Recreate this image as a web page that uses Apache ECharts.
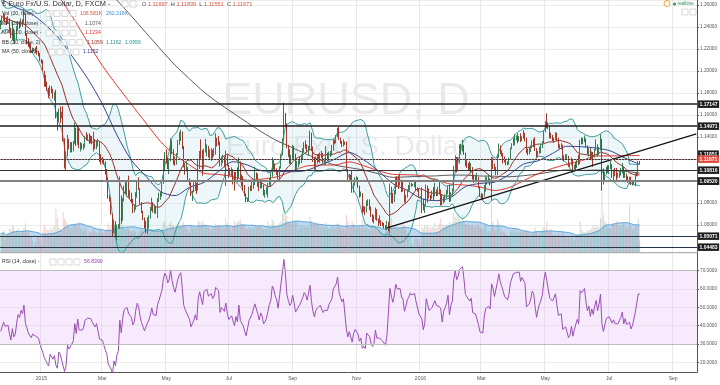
<!DOCTYPE html>
<html><head><meta charset="utf-8">
<script src="https://cdn.jsdelivr.net/npm/echarts/dist/echarts.min.js"></script>
<style>html,body{margin:0;padding:0;background:#fff}#c{width:720px;height:385px}</style>
</head><body><div id="c"></div>
<script>
// ---------------- DATA (read/estimated from the reference picture) ----------------
const firstDate = '2014-11-24';
const axisEndDate = '2016-09-23';
const firstOpen = 1.2390;
// closes before the first visible bar (needed to start the 20-day band and RSI)
const preCloses = [1.2732,1.2628,1.2612,1.2525,1.2483,1.2547,1.2489,1.2376,1.2447,1.2411,1.2478,1.2437,1.2474,1.2527,1.2477,1.2534,1.2544,1.2546,1.2390];
const closes = [
1.2441,1.2474,1.2505,1.2463,1.2451, 1.2467,1.2382,1.2312,1.2380,1.2288, 1.2304,1.2378,1.2439,1.2413,1.2465, 1.2440,1.2502,1.2338,1.2292,1.2229,
1.2226,1.2175,1.2196,1.2193,1.2176, 1.2158,1.2156,1.2098,1.2087,1.2002, 1.1933,1.1890,1.1836,1.1792,1.1843, 1.1832,1.1772,1.1787,1.1627,1.1564,
1.1644,1.1607,1.1611,1.1366,1.1205, 1.1243,1.1381,1.1306,1.1321,1.1291, 1.1345,1.1480,1.1343,1.1479,1.1316, 1.1322,1.1310,1.1328,1.1397,1.1389,
1.1413,1.1411,1.1407,1.1374,1.1383, 1.1327,1.1348,1.1348,1.1198,1.1196, 1.1183,1.1177,1.1073,1.1023,1.0843, 1.0849,1.0700,1.0548,1.0625,1.0496,
1.0568,1.0594,1.0860,1.0656,1.0823, 1.0942,1.0925,1.0967,1.0887,1.0888, 1.0832,1.0731,1.0763,1.0887,1.0970, 1.0927,1.0804,1.0720,1.0661,1.0600,
1.0569,1.0658,1.0687,1.0733,1.0806, 1.0735,1.0753,1.0722,1.0828,1.0871, 1.0887,1.0979,1.1130,1.1220,1.1198, 1.1146,1.1186,1.1347,1.1262,1.1201,
1.1160,1.1245,1.1343,1.1410,1.1445, 1.1318,1.1144,1.1093,1.1107,1.1014, 1.0976,1.0876,1.0905,1.0937,1.0985, 1.0926,1.1154,1.1242,1.1239,1.1111,
1.1289,1.1290,1.1318,1.1253,1.1265, 1.1282,1.1241,1.1265,1.1363,1.1351, 1.1340,1.1153,1.1199,1.1203,1.1164, 1.1236,1.1144,1.1080,1.1087,1.1109,
1.1061,1.1016,1.1080,1.1031,1.1163, 1.1009,1.1002,1.0951,1.0887,1.0828, 1.0828,1.0936,1.0932,1.0982,1.0984, 1.1063,1.1061,1.0987,1.0933,1.0983,
1.0958,1.0889,1.0903,1.0924,1.0969, 1.1015,1.1043,1.1165,1.1145,1.1104, 1.1081,1.1025,1.1118,1.1237,1.1384, 1.1617,1.1518,1.1315,1.1246,1.1184,
1.1212,1.1315,1.1233,1.1121,1.1151, 1.1170,1.1206,1.1215,1.1280,1.1337, 1.1316,1.1273,1.1290,1.1433,1.1293, 1.1192,1.1128,1.1193,1.1214,1.1199,
1.1240,1.1249,1.1177,1.1194,1.1209, 1.1195,1.1238,1.1241,1.1277,1.1360, 1.1357,1.1404,1.1472,1.1384,1.1351, 1.1323,1.1345,1.1344,1.1108,1.1015,
1.1050,1.1045,1.0922,1.0977,1.1005, 1.1016,1.0950,1.0863,1.0882,1.0740, 1.0752,1.0719,1.0813,1.0817,1.0770, 1.0686,1.0644,1.0660,1.0738,1.0648,
1.0636,1.0641,1.0623,1.0610,1.0592, 1.0566,1.0615,1.0612,1.0941,1.0879, 1.0832,1.0895,1.1024,1.0990,1.0989, 1.0991,1.0934,1.0919,1.0826,1.0866,
1.0920,1.0939,1.0978,1.0965,1.0966, 1.0975,1.0930,1.0931,1.0857,1.0857, 1.0826,1.0748,1.0780,1.0935,1.0928, 1.0857,1.0853,1.0875,1.0866,1.0917,
1.0890,1.0895,1.0885,1.0873,1.0797, 1.0852,1.0871,1.0895,1.0942,1.0830, 1.0888,1.0918,1.1105,1.1210,1.1155, 1.1196,1.1289,1.1290,1.1325,1.1255,
1.1153,1.1145,1.1121,1.1106,1.1128, 1.1026,1.1019,1.1015,1.1024,1.0935, 1.0872,1.0870,1.0862,1.0952,1.1000, 1.1011,1.1012,1.0998,1.1177,1.1154,
1.1105,1.1109,1.1224,1.1315,1.1270, 1.1242,1.1214,1.1181,1.1175,1.1163, 1.1201,1.1296,1.1335,1.1380,1.1390, 1.1393,1.1385,1.1405,1.1368,1.1397,
1.1407,1.1381,1.1270,1.1264,1.1285, 1.1314,1.1360,1.1348,1.1286,1.1225, 1.1265,1.1297,1.1318,1.1352,1.1454, 1.1534,1.1494,1.1487,1.1403,1.1402,
1.1386,1.1383,1.1431,1.1372,1.1311, 1.1314,1.1318,1.1215,1.1202,1.1221, 1.1224,1.1141,1.1151,1.1188,1.1115, 1.1145,1.1131,1.1185,1.1157,1.1370,
1.1356,1.1360,1.1390,1.1314,1.1254, 1.1285,1.1212,1.1261,1.1221,1.1277, 1.1318,1.1247,1.1294,1.1373,1.1114, 1.1019,1.1069,1.1126,1.1106,1.1133,
1.1142,1.1070,1.1094,1.1058,1.1051, 1.1054,1.1059,1.1091,1.1121,1.1034, 1.1065,1.1019,1.1009,1.1027,1.0977, 1.0993,1.0993,1.1058,1.1055,1.11697,
1.11671];
const highs = [
1.2465,1.2500,1.2530,1.2515,1.2490, 1.2500,1.2480,1.2395,1.2456,1.2390, 1.2340,1.2410,1.2450,1.2450,1.2480, 1.2470,1.2570,1.2520,1.2345,1.2300,
1.2260,1.2250,1.2215,1.2210,1.2215, 1.2230,1.2185,1.2165,1.2110,1.2100, 1.1975,1.1965,1.1905,1.1850,1.1870, 1.1865,1.1840,1.1810,1.1830,1.1630,
1.1660,1.1680,1.1630,1.1680,1.1390, 1.1270,1.1420,1.1385,1.1355,1.1355, 1.1365,1.1534,1.1485,1.1495,1.1485, 1.1355,1.1345,1.1340,1.1410,1.1445,
1.1425,1.1435,1.1415,1.1410,1.1450, 1.1380,1.1365,1.1385,1.1355,1.1245, 1.1220,1.1205,1.1180,1.1110,1.1035, 1.0880,1.0855,1.0705,1.0650,1.0635,
1.0605,1.0610,1.1043,1.0870,1.0845, 1.0960,1.1000,1.0990,1.1050,1.0920, 1.0895,1.0840,1.0790,1.0900,1.1010, 1.1035,1.0935,1.0810,1.0730,1.0670,
1.0640,1.0670,1.0690,1.0765,1.0850, 1.0810,1.0790,1.0775,1.0845,1.0895, 1.0905,1.0990,1.1195,1.1265,1.1290, 1.1215,1.1210,1.1390,1.1365,1.1290,
1.1225,1.1255,1.1375,1.1447,1.1467, 1.1450,1.1320,1.1155,1.1180,1.1130, 1.1025,1.0990,1.0915,1.0990,1.0995, 1.0985,1.1195,1.1275,1.1380,1.1285,
1.1295,1.1385,1.1335,1.1320,1.1290, 1.1300,1.1285,1.1300,1.1435,1.1395, 1.1410,1.1360,1.1225,1.1240,1.1225, 1.1278,1.1245,1.1150,1.1120,1.1125,
1.1075,1.1085,1.1085,1.1125,1.1215, 1.1180,1.1060,1.1045,1.0965,1.0890, 1.0850,1.0950,1.0960,1.1005,1.0995, 1.1130,1.1080,1.1070,1.0995,1.1010,
1.0995,1.0965,1.0920,1.0945,1.0985, 1.1030,1.1085,1.1215,1.1190,1.1160, 1.1115,1.1100,1.1135,1.1245,1.1390, 1.1714,1.1620,1.1525,1.1330,1.1290,
1.1240,1.1330,1.1320,1.1250,1.1185, 1.1190,1.1225,1.1245,1.1300,1.1355, 1.1370,1.1335,1.1320,1.1460,1.1440, 1.1315,1.1215,1.1225,1.1245,1.1250,
1.1260,1.1275,1.1255,1.1210,1.1320, 1.1260,1.1270,1.1275,1.1330,1.1385, 1.1375,1.1420,1.1485,1.1495,1.1395, 1.1365,1.1380,1.1360,1.1360,1.1110,
1.1065,1.1060,1.1095,1.0985,1.1035, 1.1045,1.1035,1.0960,1.0905,1.0890, 1.0775,1.0770,1.0825,1.0835,1.0835, 1.0760,1.0700,1.0690,1.0760,1.0745,
1.0660,1.0690,1.0645,1.0630,1.0620, 1.0600,1.0640,1.0630,1.0980,1.0950, 1.0895,1.0920,1.1040,1.1045,1.1050, 1.1060,1.1015,1.1010,1.0925,1.0875,
1.0925,1.0965,1.0990,1.0985,1.0975, 1.0990,1.0995,1.0945,1.0935,1.0865, 1.0945,1.0840,1.0790,1.0970,1.0960, 1.0935,1.0875,1.0915,1.0945,1.0985,
1.0925,1.0950,1.0990,1.0925,1.0880, 1.0860,1.0880,1.0920,1.0960,1.0965, 1.0900,1.0935,1.1140,1.1235,1.1220, 1.1220,1.1335,1.1340,1.1376,1.1330,
1.1260,1.1190,1.1165,1.1180,1.1165, 1.1125,1.1060,1.1050,1.1075,1.1040, 1.0950,1.0890,1.0885,1.0965,1.1040, 1.1035,1.1060,1.1025,1.1220,1.1215,
1.1160,1.1130,1.1240,1.1342,1.1325, 1.1280,1.1255,1.1225,1.1195,1.1180, 1.1215,1.1305,1.1345,1.1395,1.1430, 1.1415,1.1435,1.1410,1.1435,1.1410,
1.1465,1.1440,1.1395,1.1295,1.1310, 1.1325,1.1370,1.1385,1.1400,1.1300, 1.1275,1.1315,1.1340,1.1365,1.1460, 1.1545,1.1616,1.1535,1.1495,1.1440,
1.1420,1.1395,1.1445,1.1440,1.1395, 1.1335,1.1345,1.1330,1.1235,1.1245, 1.1245,1.1230,1.1170,1.1215,1.1200, 1.1150,1.1175,1.1195,1.1240,1.1375,
1.1395,1.1395,1.1415,1.1390,1.1325, 1.1300,1.1300,1.1270,1.1265,1.1295, 1.1380,1.1335,1.1310,1.1427,1.1385, 1.1115,1.1085,1.1130,1.1145,1.1145,
1.1185,1.1155,1.1105,1.1120,1.1120, 1.1075,1.1090,1.1120,1.1165,1.1130, 1.1090,1.1070,1.1045,1.1040,1.1040, 1.1005,1.1010,1.1070,1.1080,1.1185,
1.11839];
const lows = [
1.2380,1.2420,1.2455,1.2445,1.2420, 1.2430,1.2360,1.2300,1.2280,1.2270, 1.2245,1.2290,1.2370,1.2385,1.2400, 1.2405,1.2425,1.2320,1.2245,1.2220,
1.2205,1.2165,1.2165,1.2180,1.2165, 1.2150,1.2135,1.2090,1.2070,1.2000, 1.1860,1.1855,1.1820,1.1755,1.1775, 1.1800,1.1750,1.1730,1.1570,1.1460,
1.1540,1.1530,1.1570,1.1360,1.1115, 1.1098,1.1225,1.1290,1.1260,1.1262, 1.1270,1.1340,1.1320,1.1330,1.1300, 1.1270,1.1290,1.1285,1.1305,1.1370,
1.1365,1.1340,1.1345,1.1335,1.1270, 1.1290,1.1290,1.1315,1.1175,1.1150, 1.1160,1.1150,1.1060,1.0990,1.0840, 1.0815,1.0695,1.0495,1.0525,1.0490,
1.0462,1.0570,1.0570,1.0612,1.0640, 1.0815,1.0890,1.0860,1.0855,1.0840, 1.0800,1.0710,1.0715,1.0740,1.0850, 1.0920,1.0790,1.0710,1.0645,1.0570,
1.0530,1.0520,1.0570,1.0660,1.0730, 1.0715,1.0705,1.0705,1.0665,1.0810, 1.0830,1.0860,1.0975,1.1100,1.1160, 1.1110,1.1065,1.1180,1.1245,1.1150,
1.1140,1.1150,1.1235,1.1330,1.1365, 1.1290,1.1125,1.1060,1.1090,1.1005, 1.0960,1.0865,1.0820,1.0900,1.0910, 1.0885,1.0915,1.1110,1.1205,1.1050,
1.1110,1.1260,1.1225,1.1215,1.1200, 1.1185,1.1205,1.1225,1.1240,1.1315, 1.1325,1.1135,1.1135,1.1165,1.1125, 1.0955,1.1135,1.1030,1.1050,1.1050,
1.0970,1.0915,1.1000,1.0990,1.1030, 1.0990,1.0955,1.0915,1.0865,1.0810, 1.0810,1.0815,1.0910,1.0910,1.0930, 1.0965,1.1020,1.0950,1.0910,1.0935,
1.0935,1.0870,1.0850,1.0880,1.0850, 1.0960,1.0955,1.1040,1.1105,1.1090, 1.1055,1.1015,1.1015,1.1115,1.1235, 1.1370,1.1500,1.1300,1.1220,1.1155,
1.1155,1.1205,1.1195,1.1085,1.1085, 1.1125,1.1150,1.1165,1.1200,1.1265, 1.1295,1.1260,1.1230,1.1280,1.1275, 1.1175,1.1105,1.1100,1.1160,1.1175,
1.1165,1.1210,1.1160,1.1145,1.1150, 1.1180,1.1185,1.1220,1.1230,1.1275, 1.1335,1.1345,1.1400,1.1375,1.1340, 1.1310,1.1315,1.1330,1.1095,1.0995,
1.1015,1.0995,1.0895,1.0895,1.0960, 1.0990,1.0940,1.0850,1.0860,1.0705, 1.0720,1.0690,1.0715,1.0775,1.0735, 1.0675,1.0630,1.0615,1.0650,1.0640,
1.0590,1.0615,1.0590,1.0590,1.0570, 1.0560,1.0555,1.0545,1.0524,1.0800, 1.0795,1.0810,1.0880,1.0945,1.0930, 1.0960,1.0900,1.0905,1.0805,1.0805,
1.0850,1.0905,1.0915,1.0950,1.0955, 1.0945,1.0915,1.0905,1.0850,1.0850, 1.0710,1.0735,1.0710,1.0775,1.0805, 1.0845,1.0825,1.0840,1.0820,1.0860,
1.0865,1.0865,1.0880,1.0780,1.0780, 1.0800,1.0810,1.0845,1.0880,1.0810, 1.0815,1.0860,1.0905,1.1080,1.1080, 1.1095,1.1160,1.1245,1.1270,1.1240,
1.1135,1.1120,1.1100,1.1090,1.1080, 1.1015,1.0985,1.0990,1.0995,1.0935, 1.0860,1.0835,1.0825,1.0860,1.0905, 1.0970,1.0990,1.0960,1.0822,1.1110,
1.1095,1.1055,1.1055,1.1215,1.1245, 1.1225,1.1160,1.1170,1.1145,1.1145, 1.1150,1.1195,1.1290,1.1325,1.1325, 1.1370,1.1345,1.1360,1.1355,1.1365,
1.1385,1.1360,1.1255,1.1235,1.1245, 1.1265,1.1300,1.1310,1.1275,1.1215, 1.1215,1.1250,1.1255,1.1300,1.1345, 1.1445,1.1480,1.1475,1.1390,1.1385,
1.1365,1.1350,1.1375,1.1360,1.1300, 1.1290,1.1290,1.1200,1.1180,1.1200, 1.1195,1.1130,1.1130,1.1145,1.1100, 1.1105,1.1100,1.1120,1.1145,1.1155,
1.1335,1.1335,1.1355,1.1305,1.1245, 1.1225,1.1200,1.1190,1.1130,1.1215, 1.1300,1.1225,1.1240,1.1280,1.0912, 1.0970,1.1005,1.1060,1.1075,1.1065,
1.1110,1.1030,1.1000,1.1045,1.1000, 1.1030,1.1030,1.1050,1.1070,1.1030, 1.1030,1.1005,1.0985,1.0975,1.0965, 1.0960,1.0970,1.0955,1.1045,1.1045,
1.11551];
// tick volume in thousands
const volumesK = [
180,170,210,120,150, 190,230,220,260,250, 200,210,230,190,180, 210,240,280,200,190,
150,160,110,60,100, 140,150,130,70,210, 260,230,220,210,240, 220,240,250,420,330,
240,230,220,390,330, 300,280,250,230,240, 250,280,260,240,290, 230,220,200,240,210,
150,200,190,210,230, 200,190,180,220,210, 180,190,210,230,280, 230,260,300,270,260,
250,220,340,280,260, 230,220,240,230,200, 190,210,200,200,160, 190,210,220,200,190,
210,200,210,200,220, 200,190,210,230,210, 200,240,290,300,250, 240,270,290,260,260,
230,260,270,270,250, 280,300,250,230,220, 180,260,240,230,240, 230,310,290,280,300,
270,260,250,240,220, 230,220,250,280,240, 250,260,230,240,230, 330,280,260,230,190,
260,300,280,290,300, 320,270,260,250,230, 220,240,230,240,230, 250,240,250,240,250,
230,220,230,220,300, 240,270,320,300,250, 240,260,280,300,380, 430,380,350,300,280,
270,310,280,300,290, 220,260,250,260,240, 240,250,240,340,300, 270,280,290,270,250,
250,240,250,240,290, 240,230,220,250,260, 230,260,280,270,240, 220,230,220,360,300,
250,240,300,270,240, 220,240,250,230,320, 240,230,240,220,210, 220,230,230,240,210,
200,220,190,130,150, 200,240,230,420,330, 260,250,270,250,230, 230,240,280,250,220,
180,170,160,90,60, 120,140,130,100,60, 240,230,260,250,260, 240,230,250,240,280,
230,260,280,330,270, 250,260,270,260,290, 260,290,380,340,330, 340,330,300,360,300,
270,260,270,250,260, 260,240,250,250,270, 240,230,220,240,260, 200,210,200,470,290,
220,210,320,290,230, 200,200,190,170,150, 160,200,210,200,230, 190,210,200,200,190,
200,210,210,200,180, 170,180,190,240,200, 170,180,200,220,240, 220,290,210,200,230,
170,160,170,160,180, 160,170,190,170,150, 140,150,140,150,160, 110,150,170,180,300,
220,200,190,200,210, 210,220,230,260,240, 260,240,240,330,580, 360,300,280,240,230,
230,290,280,260,300, 260,250,240,270,290, 240,230,250,460,250, 220,230,260,250,330,
107];
// moving averages, one value every 10 bars starting at bar 0
const maStep = 10;
const ma200 = [1.3420,1.3370,1.3310,1.3240,1.3160,1.3060,1.2920,1.2780,1.2645,1.2500,1.2350,1.2200,1.2055,1.1930,1.1810,1.1710,1.1620,1.1531,1.1445,1.1369,1.1309,1.1249,1.1193,1.1147,1.1123,1.1101,1.1068,1.1035,1.1039,1.1045,1.1048,1.1055,1.1055,1.1047,1.1045,1.1040,1.1050,1.1065,1.1087,1.1102,1.1097,1.1101,1.1097,1.1089,1.1074];
const ma100 = [1.3300,1.3150,1.3000,1.2850,1.2680,1.2480,1.2260,1.2050,1.1870,1.1698,1.1529,1.1361,1.1239,1.1147,1.1072,1.1061,1.1041,1.1008,1.1019,1.1039,1.1088,1.1136,1.1146,1.1147,1.1175,1.1140,1.1095,1.1062,1.1058,1.1050,1.1009,1.0973,1.0964,1.0947,1.0915,1.0941,1.1004,1.1068,1.1116,1.1154,1.1186,1.1228,1.1230,1.1231,1.1234];
const ma50 = [1.2660,1.2580,1.2530,1.2430,1.2300,1.2120,1.1930,1.1700,1.1420,1.1190,1.1045,1.0906,1.0869,1.0944,1.0989,1.1089,1.1177,1.1146,1.1094,1.1090,1.1086,1.1096,1.1146,1.1200,1.1260,1.1194,1.1094,1.0978,1.0916,1.0840,1.0823,1.0853,1.0951,1.0979,1.0991,1.1059,1.1155,1.1185,1.1252,1.1317,1.1313,1.1301,1.1274,1.1209,1.1152];
// horizontal levels drawn on the chart
const levels = [1.17147, 1.14971, 1.11851, 1.10816, 1.10297, 1.09520, 1.05071, 1.04483];
const lastPrice = 1.11671;
const trendline = [['2015-12-01', 1.0575], ['2016-09-23', 1.1430]];
const priceTicks = ['1.04000','1.06000','1.08000','1.10000','1.12000','1.14000','1.16000','1.18000','1.20000','1.22000','1.24000','1.26000'];
const rsiTicks = ['20.0000','30.0000','40.0000','50.0000','60.0000','70.0000'];
const monthNames = ['Jan','Feb','Mar','Apr','May','Jun','Jul','Aug','Sep','Oct','Nov','Dec'];
const headerOHLC = ['1.11697','1.11839','1.11551','1.11671'];
const legendVol = ['106.581K','262.316K'];
const legendMA200 = '1.1074', legendMA100 = '1.1234', legendMA50 = '1.1152';
const legendBB = ['1.1059','1.1162','1.0956'];
const legendRSI = '56.8390';

// ---------------- BUILD ----------------
const cats = [];
(function(){
  const p = firstDate.split('-').map(Number), q = axisEndDate.split('-').map(Number);
  const d = new Date(Date.UTC(p[0], p[1]-1, p[2])); const end = Date.UTC(q[0], q[1]-1, q[2]);
  while (d.getTime() <= end) { const w = d.getUTCDay(); if (w !== 0 && w !== 6) cats.push(d.toISOString().slice(0,10)); d.setUTCDate(d.getUTCDate()+1); }
})();
const labelText = {};
for (let i = 1; i < cats.length; i++) {
  const m = +cats[i].slice(5,7) - 1, pm = +cats[i-1].slice(5,7) - 1;
  if (m !== pm && m % 2 === 0) labelText[i] = m === 0 ? cats[i].slice(0,4) : monthNames[m];
}
const isLabel = (i) => labelText[i] !== undefined;

const candle = [], volUp = [], volDn = [];
for (let i = 0; i < closes.length; i++) {
  const o = i ? closes[i-1] : firstOpen, c = closes[i];
  const h = Math.max(highs[i], o, c), l = Math.min(lows[i], o, c);
  candle.push([o, c, l, h]);
  volUp.push(c >= o ? volumesK[i] : '-');
  volDn.push(c >= o ? '-' : volumesK[i]);
}
const allC = preCloses.concat(closes), P = preCloses.length;
const bbU = [], bbL = [], bbM = [], bbW = [];
for (let k = 0; k < closes.length; k++) {
  const w = allC.slice(k+P-19, k+P+1);
  const m = w.reduce((a,b)=>a+b,0)/w.length;
  const sd = Math.sqrt(w.reduce((a,b)=>a+(b-m)*(b-m),0)/w.length);
  bbM.push(m); bbU.push(m+2*sd); bbL.push(m-2*sd); bbW.push(4*sd);
}
const rsiAll = []; let ag = 0, al = 0;
for (let i = 1; i < allC.length; i++) {
  const ch = allC[i]-allC[i-1], g = Math.max(ch,0), l = Math.max(-ch,0);
  if (i <= 14) { ag += g; al += l; if (i === 14) { ag /= 14; al /= 14; rsiAll[i] = 100-100/(1+ag/al); } }
  else { ag = (ag*13+g)/14; al = (al*13+l)/14; rsiAll[i] = 100-100/(1+ag/al); }
}
const rsi = closes.map((_,k)=>rsiAll[k+P]);
const volMA = volumesK.map((_,k)=>{ const w = volumesK.slice(Math.max(0,k-19), k+1); return w.reduce((a,b)=>a+b,0)/w.length; });
const maPts = (arr) => arr.map((v,j)=>[cats[Math.min(j*maStep, closes.length-1)], v]);

const FONT = 'Liberation Sans, Arial, sans-serif';
const levelStyle = [
  {c:'#1e1e1e', w:1.5}, {c:'#1e1e1e', w:1.5}, {c:'#3a3a3a', w:1}, {c:'#333', w:1},
  {c:'#333', w:1}, {c:'#808080', w:2}, {c:'#253545', w:1}, {c:'#253545', w:1}];
const boxLabel = (txt, bg, off) => ({show:true, position:'end', distance:1, formatter:txt,
  backgroundColor:bg, color:'#fff', fontSize:5, fontWeight:'bold', fontFamily:FONT, padding:[1.5,1.5,1,1.5], offset:off||[0,0]});
const mlData = levels.map((v,i)=>({yAxis:v, lineStyle:{color:levelStyle[i].c, width:levelStyle[i].w, type:'solid'},
  label: boxLabel(v.toFixed(5), '#1d1d1d', i===2?[0,-5]:[0,0])}));
mlData.push({yAxis:lastPrice, lineStyle:{color:'#c98a84', width:1, type:[1,2]}, label: boxLabel(lastPrice.toFixed(5), '#e2473b')});

const priceSet = new Set(priceTicks);
const hiddenPrice = new Set(['1.12000','1.10000']);
const rsiSet = new Set(rsiTicks);

const chart = echarts.init(document.getElementById('c'), null, {renderer:'canvas'});
// legend graphics
const gfx = [];
const T = (x,y,text,fill,size,extra) => gfx.push(Object.assign({type:'text', x, y, z:100, silent:true,
  style:{text, fill, font:(size||5.2)+'px '+FONT, verticalAlign:'middle'}}, extra||{}));
const boxes = (x0, y, n) => { for (let i=0;i<n;i++) gfx.push({type:'rect', z:100, silent:true, shape:{x:x0+i*8, y:y-3, width:6, height:6},
  style:{fill:'rgba(255,255,255,0.7)', stroke:'#c8c8c8', lineWidth:0.7}}); };
// watermark
gfx.push({type:'text', x:346, y:102, z:-5, silent:true, style:{text:'EURUSD, D', fill:'rgba(0,0,0,0.085)', font:'45px '+FONT, align:'center', verticalAlign:'middle'}});
gfx.push({type:'text', x:347, y:147, z:-5, silent:true, style:{text:'Euro Fx/U.S. Dollar', fill:'rgba(0,0,0,0.085)', font:'28px '+FONT, align:'center', verticalAlign:'middle'}});
T(2,4,'€ Euro Fx/U.S. Dollar, D, FXCM -','#333',7.4);
boxes(122,4,2);
gfx.push({type:'text', x:142, y:4, z:100, silent:true, style:{text:'{l|O} {v|'+headerOHLC[0]+'}  {l|H} {v|'+headerOHLC[1]+'}  {l|L} {v|'+headerOHLC[2]+'}  {l|C} {v|'+headerOHLC[3]+'}',
  font:'5.6px '+FONT, verticalAlign:'middle', rich:{l:{fill:'#444', font:'5.6px '+FONT}, v:{fill:'#d75442', font:'5.6px '+FONT}}}});
T(2,13.5,'Vol (20, false) -','#333'); boxes(46,13.5,4); T(80,13.5,legendVol[0],'#d75442'); T(106,13.5,legendVol[1],'#3d8fd1');
T(2,23.5,'MA (200, close) -','#333'); boxes(46,23.5,4); T(85,23.5,legendMA200,'#555');
T(2,33,'MA (100, close) -','#333'); boxes(46,33,4); T(85,33,legendMA100,'#e0392f');
T(2,42.5,'BB (20, close, 2) -','#333'); boxes(53,42.5,4); T(87,42.5,legendBB[0],'#9b2d2d'); T(106,42.5,legendBB[1],'#2f8f8f'); T(125,42.5,legendBB[2],'#2f8f8f');
T(2,52,'MA (50, close) -','#333'); boxes(49,52,4); T(83,52,legendMA50,'#34428f');
T(2,262,'RSI (14, close) -','#333'); boxes(50,262,4); T(84,262,legendRSI,'#8e3fa6');
// top-right
gfx.push({type:'circle', z:100, silent:true, shape:{cx:667,cy:3.5,r:3}, style:{fill:'#fff', stroke:'#f0a030', lineWidth:1}});
gfx.push({type:'circle', z:100, silent:true, shape:{cx:674.5,cy:4,r:1.5}, style:{fill:'#2e8b57'}});
T(677.5,4,'realtime','#2e8b57',4.6);
boxes(682,12,2);

const option = {
  animation:false, backgroundColor:'#ffffff',
  textStyle:{fontFamily:FONT},
  grid:[{left:0, right:22, top:0, height:252}, {left:0, right:22, top:253, height:119}],
  xAxis:[
    {type:'category', gridIndex:0, data:cats, boundaryGap:true,
     axisLine:{show:true, lineStyle:{color:'#b0b0b0', width:1}}, axisTick:{show:false}, axisLabel:{show:false},
     splitLine:{show:true, interval:(i)=>isLabel(i), lineStyle:{color:'#e8e8e8', width:1}}},
    {type:'category', gridIndex:1, data:cats, boundaryGap:true,
     axisLine:{show:true, lineStyle:{color:'#555', width:1}}, axisTick:{show:false},
     axisLabel:{interval:(i)=>isLabel(i), formatter:(v,i)=>labelText[i]||'', fontSize:5, color:'#555', margin:4, fontFamily:FONT},
     splitLine:{show:true, interval:(i)=>isLabel(i), lineStyle:{color:'#e8e8e8', width:1}}}
  ],
  yAxis:[
    {type:'value', gridIndex:0, position:'right', min:1.0356, max:1.2647, splitNumber:11,
     axisLine:{show:true, lineStyle:{color:'#555'}}, axisTick:{show:true, length:2, lineStyle:{color:'#555'}},
     axisLabel:{showMinLabel:false, showMaxLabel:false, fontSize:4.7, color:'#555', margin:3, fontFamily:FONT,
       formatter:(v)=>{ const s = v.toFixed(5); return (priceSet.has(s) && !hiddenPrice.has(s)) ? s : ''; }},
     splitLine:{show:true, lineStyle:{color:'#ececec'}}},
    {type:'value', gridIndex:1, position:'right', min:14.71, max:79.66, splitNumber:6,
     axisLine:{show:true, lineStyle:{color:'#555'}}, axisTick:{show:true, length:2, lineStyle:{color:'#555'}},
     axisLabel:{showMinLabel:false, showMaxLabel:false, fontSize:4.7, color:'#555', margin:3, fontFamily:FONT,
       formatter:(v)=>{ const s = v.toFixed(4); return rsiSet.has(s) ? s : ''; }},
     splitLine:{show:true, lineStyle:{color:'#ececec'}}},
    {type:'value', gridIndex:0, min:0, max:2455, show:false, splitLine:{show:false}}
  ],
  graphic: gfx,
  series:[
    {name:'volMA', type:'line', xAxisIndex:0, yAxisIndex:2, data:volMA, symbol:'none', z:1,
     lineStyle:{color:'#5fa6da', width:1}, areaStyle:{color:'rgba(95,165,222,0.6)'}},
    {name:'volUp', type:'bar', xAxisIndex:0, yAxisIndex:2, data:volUp, barWidth:1, barGap:'-100%', z:1,
     itemStyle:{color:'rgba(107,165,131,0.35)'}},
    {name:'volDn', type:'bar', xAxisIndex:0, yAxisIndex:2, data:volDn, barWidth:1, barGap:'-100%', z:1,
     itemStyle:{color:'rgba(215,84,66,0.28)'}},
    {name:'bbL', type:'line', xAxisIndex:0, yAxisIndex:0, data:bbL, stack:'bb', symbol:'none', z:2,
     lineStyle:{color:'#3e9c9c', width:1}},
    {name:'bbFill', type:'line', xAxisIndex:0, yAxisIndex:0, data:bbW, stack:'bb', symbol:'none', z:1,
     lineStyle:{width:0, opacity:0}, areaStyle:{color:'rgba(170,215,228,0.3)'}},
    {name:'bbU', type:'line', xAxisIndex:0, yAxisIndex:0, data:bbU, symbol:'none', z:2, lineStyle:{color:'#3e9c9c', width:1}},
    {name:'bbM', type:'line', xAxisIndex:0, yAxisIndex:0, data:bbM, symbol:'none', z:2, lineStyle:{color:'#9b2d2d', width:1}},
    {name:'ma200', type:'line', xAxisIndex:0, yAxisIndex:0, data:maPts(ma200), symbol:'none', smooth:0.3, z:2, lineStyle:{color:'#5a5a5a', width:1}},
    {name:'ma100', type:'line', xAxisIndex:0, yAxisIndex:0, data:maPts(ma100), symbol:'none', smooth:0.3, z:2, lineStyle:{color:'#e0392f', width:1}},
    {name:'ma50', type:'line', xAxisIndex:0, yAxisIndex:0, data:maPts(ma50), symbol:'none', smooth:0.3, z:2, lineStyle:{color:'#34428f', width:1}},
    {name:'price', type:'candlestick', xAxisIndex:0, yAxisIndex:0, data:candle, barWidth:1, z:3,
     itemStyle:{color:'#6ba583', color0:'#d75442', borderColor:'#3d7d55', borderColor0:'#a2382a', borderWidth:1},
     markLine:{silent:true, symbol:['none','none'], animation:false, data:mlData}},
    {name:'trend', type:'line', xAxisIndex:0, yAxisIndex:0, data:trendline, symbol:'none', z:4, lineStyle:{color:'#141414', width:1.3}},
    {name:'rsi', type:'line', xAxisIndex:1, yAxisIndex:1, data:rsi, symbol:'none', z:3, lineStyle:{color:'#9a4fb4', width:1},
     markArea:{silent:true, itemStyle:{color:'rgba(226,190,245,0.32)'}, data:[[{yAxis:30},{yAxis:70}]]},
     markLine:{silent:true, symbol:['none','none'], label:{show:false}, lineStyle:{color:'#bdbdbd', width:1, type:'solid'},
       data:[{yAxis:30},{yAxis:70}]}}
  ]
};
chart.setOption(option);
</script></body></html>
